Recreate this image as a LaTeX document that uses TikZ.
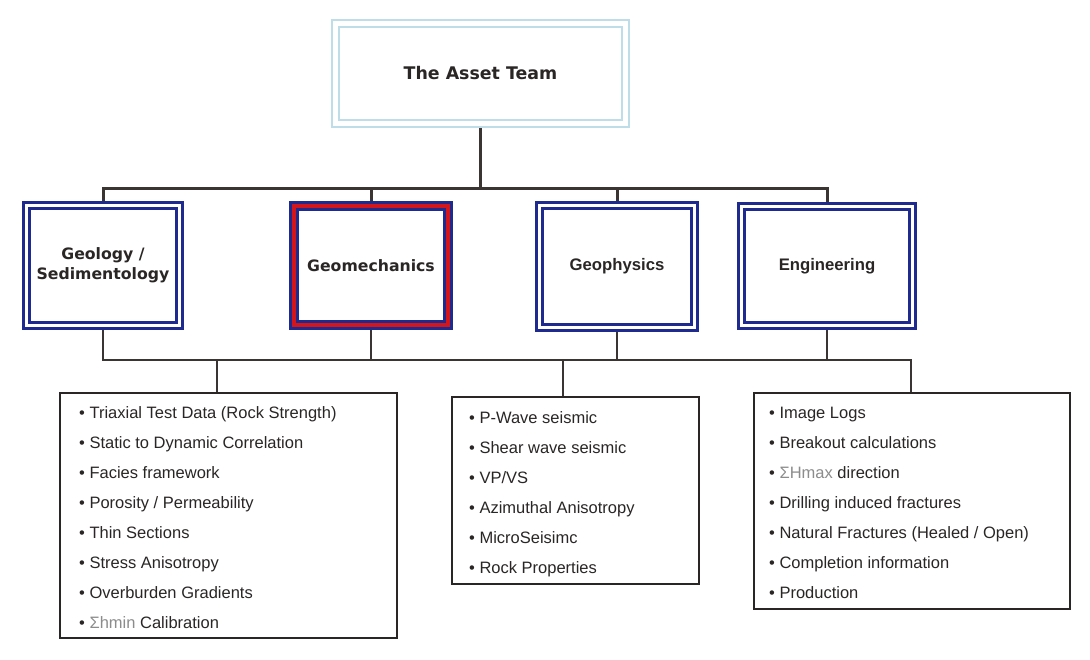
\documentclass[tikz,border=0pt]{standalone}
\usepackage{fontspec}
\setmainfont{Liberation Sans}
\newfontfamily\hdfont{DejaVu Sans}
\newfontfamily\arfont{Liberation Sans}
\usetikzlibrary{backgrounds}
\definecolor{navy}{HTML}{1E2A8E}
\definecolor{redb}{HTML}{D3151C}
\definecolor{lblue}{HTML}{BFDDE8}
\definecolor{ink}{HTML}{2A2626}
\definecolor{greyt}{HTML}{8C8C8C}
\definecolor{linec}{HTML}{3A3433}
\begin{document}
\begin{tikzpicture}[x=1pt,y=-1pt,
 topbox/.style={draw=lblue, line width=2.2pt, double=white, double distance=5pt, fill=white,
   minimum width=290pt, minimum height=100pt, inner sep=0pt, outer sep=0pt, text=ink,
   font=\hdfont\bfseries\fontsize{17.4}{20}\selectfont},
 deptbox/.style={draw=navy, line width=3pt, double=white, double distance=3pt, fill=white,
   inner sep=0pt, outer sep=0pt, align=center, text=ink},
 keybox/.style={deptbox, double=redb, double distance=4pt},
 listbox/.style={draw=ink, line width=2pt, fill=white, inner sep=0pt, outer sep=0pt},
 itemtxt/.style={anchor=base west, inner sep=0pt, text=ink, font=\arfont\fontsize{16.5}{20}\selectfont},
 thickconn/.style={draw=linec, line width=3pt},
 thinconn/.style={draw=linec, line width=1.3pt},
 dvf/.style={font=\hdfont\bfseries\fontsize{15.7}{20}\selectfont},
 arf/.style={font=\arfont\bfseries\fontsize{16.7}{20}\selectfont}
]
\useasboundingbox (0,0) rectangle (1090,660);

% top
\node[topbox] (top) at (480.5,73.5) {The Asset Team};

% departments
\node[deptbox, dvf, minimum width=153pt, minimum height=120pt] (geo) at (103,265.5) {Geology /\\Sedimentology};
\node[keybox, dvf, minimum width=154pt, minimum height=119pt] (gm) at (371,265.5) {Geomechanics};
\node[deptbox, arf, minimum width=155pt, minimum height=122pt] (gp) at (617,266.5) {Geophysics};
\node[deptbox, arf, minimum width=171pt, minimum height=119pt] (eng) at (827,266) {Engineering};

% list boxes
\node[listbox, minimum width=337pt, minimum height=245pt] (l1) at (228.5,515.5) {};
\node[listbox, minimum width=247pt, minimum height=187pt] (l2) at (575.5,490.5) {};
\node[listbox, minimum width=316pt, minimum height=216pt] (l3) at (912,501) {};

% list items
\foreach \t [count=\i from 0] in {
  Triaxial Test Data (Rock Strength),
  Static to Dynamic Correlation,
  Facies framework,
  Porosity / Permeability,
  Thin Sections,
  Stress Anisotropy,
  Overburden Gradients,
  \textcolor{greyt}{Σhmin} Calibration}
  \node[itemtxt] (a\i) at (79,418+30*\i) {• \t};

\foreach \t [count=\i from 0] in {
  P-Wave seismic,
  Shear wave seismic,
  VP/VS,
  Azimuthal Anisotropy,
  MicroSeisimc,
  Rock Properties}
  \node[itemtxt] (b\i) at (469,423+30*\i) {• \t};

\foreach \t [count=\i from 0] in {
  Image Logs,
  Breakout calculations,
  \textcolor{greyt}{ΣHmax} direction,
  Drilling induced fractures,
  Natural Fractures (Healed / Open),
  Completion information,
  Production}
  \node[itemtxt] (c\i) at (769,418+30*\i) {• \t};

\begin{pgfonlayer}{background}
\fill[white] (0,0) rectangle (1090,660);
\coordinate (tbus) at (480,188.5);
\coordinate (d1) at (217,360);
\coordinate (d2) at (563,360);
\coordinate (d3) at (911,360);
% upper connectors
\draw[thickconn] (top.south) -- (top.south |- tbus);
\draw[thickconn] (geo.north) -- (geo.north |- tbus) -| (eng.north);
\draw[thickconn] (gm.north) -- (gm.north |- tbus);
\draw[thickconn] (gp.north) -- (gp.north |- tbus);
% lower connectors
\draw[thinconn] (geo.south) |- (d3) -- (d3 |- l3.north);
\draw[thinconn] (gm.south) -- (gm.south |- d1);
\draw[thinconn] (gp.south) -- (gp.south |- d1);
\draw[thinconn] (eng.south) -- (eng.south |- d1);
\draw[thinconn] (d1) -- (d1 |- l1.north);
\draw[thinconn] (d2) -- (d2 |- l2.north);
\end{pgfonlayer}
\end{tikzpicture}
\end{document}
